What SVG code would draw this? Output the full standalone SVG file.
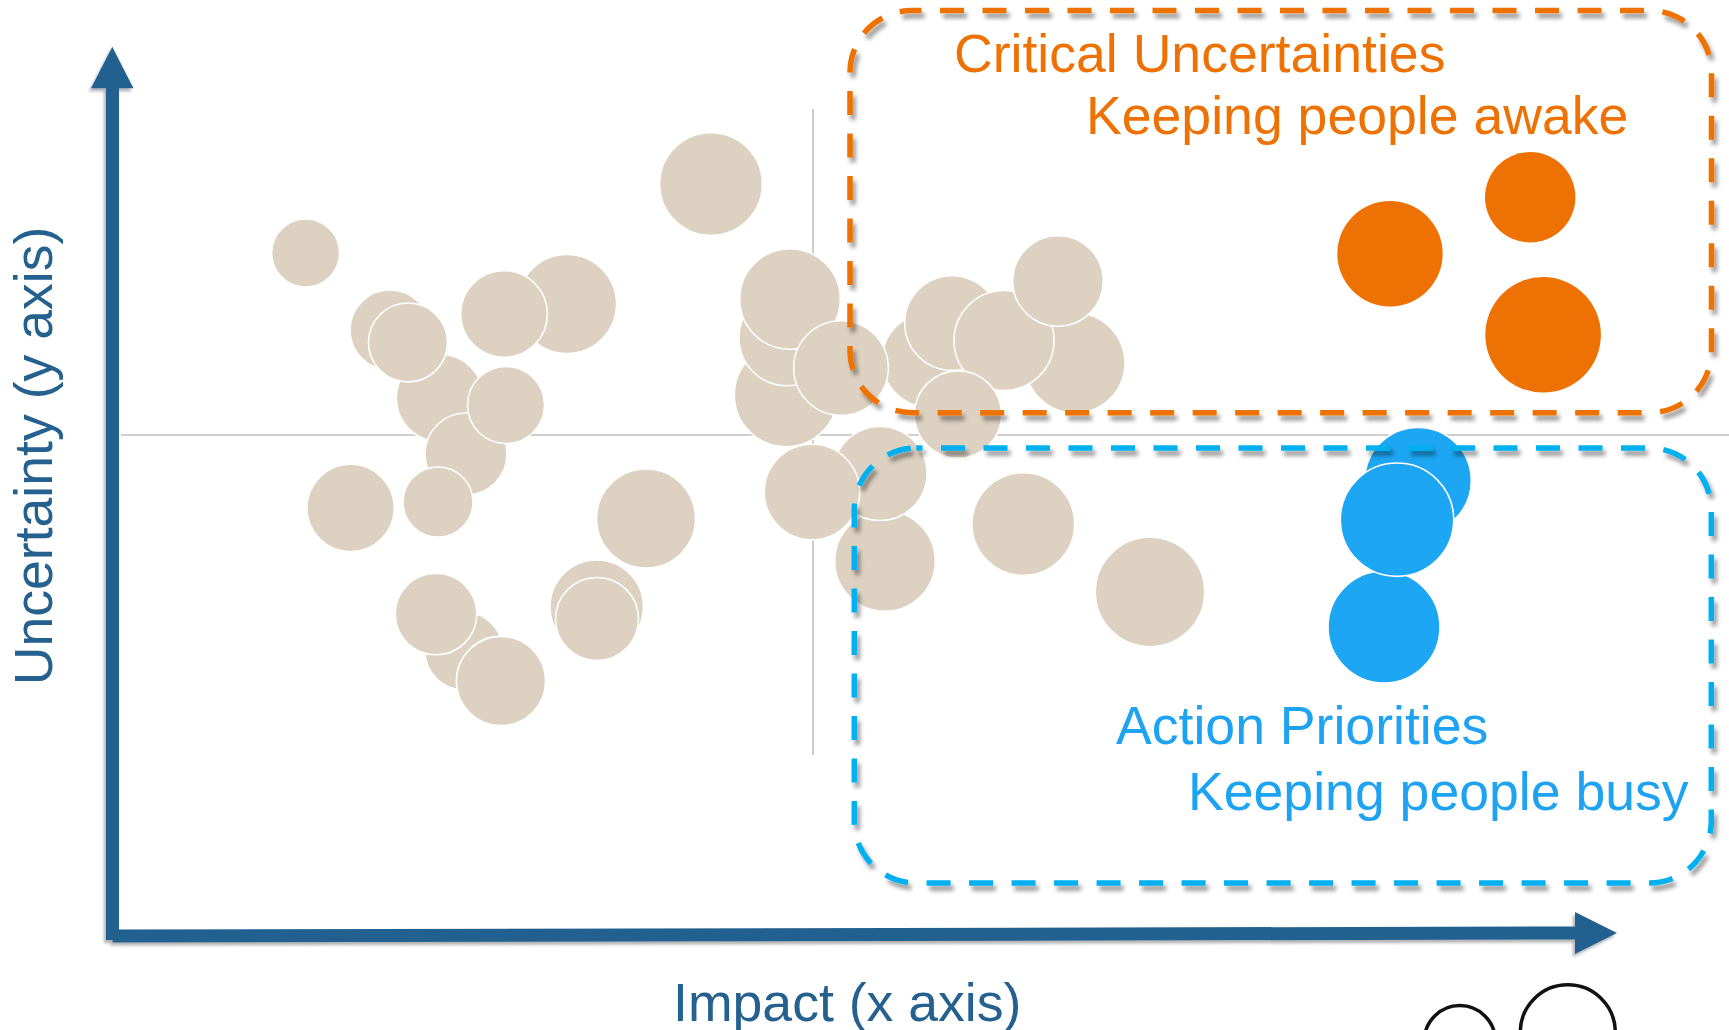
<svg xmlns="http://www.w3.org/2000/svg" width="1729" height="1030" viewBox="0 0 1729 1030">
<defs>
<style>
.txt{font-family:"Liberation Sans",Arial,sans-serif;font-size:53.6px}
.bg{fill:#DDD1C1;stroke:#FFFFFF;stroke-width:1.6}
.or{fill:#EE7203}
.bl{fill:#1DA6F4;stroke:#FFFFFF;stroke-width:1.6}
.guide{stroke:#BFBFBF;stroke-width:1.5;fill:none}
.axis{stroke:#24618F;stroke-width:13;fill:none}
.box{fill:none;stroke-width:5.5;stroke-dasharray:24 18.5}
</style>
<filter id="sh" x="-5%" y="-5%" width="112%" height="115%">
<feDropShadow dx="3" dy="5" stdDeviation="2" flood-color="#000" flood-opacity="0.4"/>
</filter>
<filter id="ash" x="-5%" y="-5%" width="112%" height="115%">
<feDropShadow dx="-2" dy="3" stdDeviation="1.5" flood-color="#000" flood-opacity="0.3"/>
</filter>
</defs>
<rect width="1729" height="1030" fill="#FFFFFF"/>

<g id="guides">
<line class="guide" x1="121" y1="435" x2="1729" y2="435"/>
<line class="guide" x1="813" y1="109" x2="813" y2="755"/>
</g>

<g id="bubbles">
<g id="b01"><circle class="bg" cx="305.6" cy="253" r="34"/></g>
<g id="b02"><circle class="bg" cx="390" cy="330" r="40"/></g>
<g id="b06"><circle class="bg" cx="440" cy="398" r="43.7"/></g>
<g id="b03"><circle class="bg" cx="408" cy="342.5" r="39.5"/></g>
<g id="b05"><circle class="bg" cx="567" cy="304" r="49.5"/></g>
<g id="b04"><circle class="bg" cx="504" cy="314" r="43.4"/></g>
<g id="b08"><circle class="bg" cx="466" cy="454" r="41"/></g>
<g id="b07"><circle class="bg" cx="506" cy="405" r="38.5"/></g>
<g id="b09"><circle class="bg" cx="350.6" cy="508" r="43.7"/></g>
<g id="b10"><circle class="bg" cx="438" cy="502" r="35"/></g>
<g id="b12"><circle class="bg" cx="464" cy="651" r="39"/></g>
<g id="b11"><circle class="bg" cx="436" cy="614" r="40.8"/></g>
<g id="b13"><circle class="bg" cx="501" cy="681" r="44.6"/></g>
<g id="b14"><circle class="bg" cx="596.7" cy="606.7" r="46.7"/></g>
<g id="b15"><circle class="bg" cx="597" cy="619" r="41.5"/></g>
<g id="b16"><circle class="bg" cx="711" cy="184" r="51.4"/></g>
<g id="b30"><circle class="bg" cx="646" cy="518.5" r="49.5"/></g>
<g id="b19"><circle class="bg" cx="786" cy="395" r="51.7"/></g>
<g id="b18"><circle class="bg" cx="786.7" cy="338" r="47.7"/></g>
<g id="b17"><circle class="bg" cx="790" cy="299" r="50.3"/></g>
<g id="b21"><circle class="bg" cx="929" cy="360" r="47"/></g>
<g id="b20"><circle class="bg" cx="841" cy="368" r="47.3"/></g>
<g id="b22"><circle class="bg" cx="952" cy="323" r="47.3"/></g>
<g id="b25"><circle class="bg" cx="1075" cy="363" r="50"/></g>
<g id="b23"><circle class="bg" cx="1004" cy="340.5" r="50"/></g>
<g id="b24"><circle class="bg" cx="1058" cy="281" r="45.3"/></g>
<g id="b26"><circle class="bg" cx="958" cy="414.5" r="43.6"/></g>
<g id="b29"><circle class="bg" cx="885" cy="561" r="50.3"/></g>
<g id="b28"><circle class="bg" cx="880" cy="473.5" r="47"/></g>
<g id="b27"><circle class="bg" cx="812" cy="492" r="47.7"/></g>
<g id="b31"><circle class="bg" cx="1023.3" cy="524" r="51.4"/></g>
<g id="b32"><circle class="bg" cx="1150" cy="592" r="54.7"/></g>
</g>

<g id="critical-bubbles">
<g id="o1"><circle class="or" cx="1390" cy="253.7" r="52.7"/></g>
<g id="o2"><circle class="or" cx="1530.2" cy="197.3" r="45.2"/></g>
<g id="o3"><circle class="or" cx="1543.1" cy="334.8" r="57.8"/></g>
</g>

<g id="action-bubbles">
<g id="c1"><circle class="bl" cx="1418" cy="480.7" r="53.3"/></g>
<g id="c3"><circle class="bl" cx="1384" cy="627" r="56"/></g>
<g id="c2"><circle class="bl" cx="1397" cy="519.7" r="56.7"/></g>
</g>

<g id="critical-box">
<rect class="box" x="850" y="10.5" width="861.5" height="402.2" rx="62" ry="62" stroke="#EE7203" stroke-dashoffset="14.5" filter="url(#sh)"/>
<text class="txt" x="954" y="72" fill="#EE7203">Critical Uncertainties</text>
<text class="txt" x="1086" y="134.3" fill="#EE7203">Keeping people awake</text>
</g>

<g id="action-box">
<rect class="box" x="854.3" y="448" width="857" height="435" rx="62" ry="62" stroke="#00B0F0" stroke-dashoffset="17.8" filter="url(#sh)"/>
<text class="txt" x="1116" y="743.7" fill="#1DA3F2">Action Priorities</text>
<text class="txt" x="1188" y="810.3" fill="#1DA3F2">Keeping people busy</text>
</g>

<g id="axes" filter="url(#ash)">
<line class="axis" x1="112.5" y1="940" x2="112.5" y2="87"/>
<polygon points="91,88.3 133.5,88.3 112.3,46.7" fill="#24618F"/>
<line class="axis" x1="112.5" y1="936" x2="1577" y2="933"/>
<polygon points="1575,912 1617,933 1575,954" fill="#24618F"/>
</g>

<g id="labels">
<text class="txt" transform="translate(52,456) rotate(-90)" text-anchor="middle" fill="#24618F">Uncertainty (y axis)</text>
<text class="txt" x="673" y="1021" fill="#24618F">Impact (x axis)</text>
</g>

<g id="corner-marks" fill="none" stroke="#111111" stroke-width="3.5">
<circle cx="1459.8" cy="1041" r="35.5"/>
<circle cx="1567.8" cy="1032.3" r="47.5"/>
</g>
</svg>
